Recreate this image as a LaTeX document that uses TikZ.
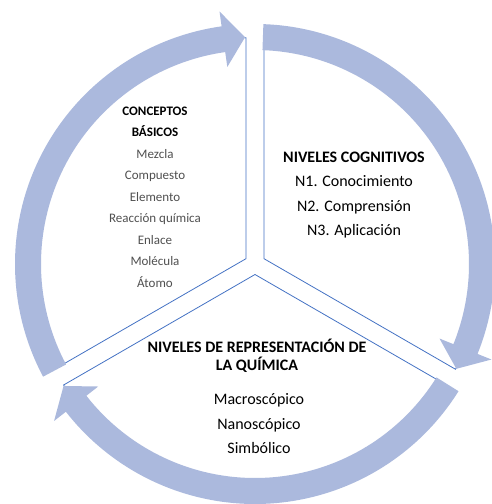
\documentclass[tikz,border=0pt]{standalone}
\usepackage{fontspec}
\setmainfont{Carlito}
\begin{document}
\begin{tikzpicture}[x=1pt,y=1pt]
\definecolor{ringblue}{RGB}{171,185,221}
\definecolor{edgeblue}{RGB}{68,114,196}
\definecolor{itemgrey}{RGB}{80,80,80}
\tikzset{
  sector/.style={fill=white,draw=edgeblue,line width=0.8pt,line join=miter},
  cyclearrow/.style={fill=ringblue,draw=none},
  smalltext/.style={align=center,inner sep=0pt,font=\fontsize{13}{21.5}\selectfont},
  bigtext/.style={align=center,inner sep=0pt,font=\fontsize{16}{24.5}\selectfont},
}
\useasboundingbox (0,0) rectangle (492,504);
\begin{scope}[shift={(255,240)}]
  % exploded pie: three sectors pushed slightly outwards
  \foreach \off/\a/\b in {150/90/210, 30/-30/90, 270/210/330}{
    \path[sector] (\off:10.5) -- ++(\a:221)
      arc[start angle=\a,end angle=\b,radius=221] -- cycle;
  }
  % circular arrows running clockwise round the pie
  \foreach \t/\p in {208/92.5, 88/-27.5, -32/-147.5}{
    \pgfmathsetmacro{\h}{\p+5.5}
    \fill[cyclearrow] (\t:240) arc[start angle=\t,end angle=\h,radius=240]
      -- (\h:255) -- (\p:227) -- (\h:199) -- (\h:214)
      arc[start angle=\h,end angle=\t,radius=214] -- cycle;
  }
\end{scope}
% texts of the three segments
\node[smalltext] (basicos) at (155,307) {%
  \textbf{CONCEPTOS}\\ \textbf{BÁSICOS}\\
  \color{itemgrey}Mezcla\\ \color{itemgrey}Compuesto\\ \color{itemgrey}Elemento\\
  \color{itemgrey}Reacción química\\ \color{itemgrey}Enlace\\
  \color{itemgrey}Molécula\\ \color{itemgrey}Átomo};
\node[bigtext] (cognitivos) at (354,309) {%
  \textbf{NIVELES COGNITIVOS}\\ N1. Conocimiento\\ N2. Comprensión\\ N3. Aplicación};
\node[bigtext,font=\fontsize{16}{18}\selectfont] (representacion) at (257,148) {%
  \textbf{NIVELES DE REPRESENTACIÓN DE}\\ \textbf{LA QUÍMICA}};
\node[bigtext] (niveles) at (259,80) {Macroscópico\\ Nanoscópico\\ Simbólico};
\end{tikzpicture}
\end{document}
